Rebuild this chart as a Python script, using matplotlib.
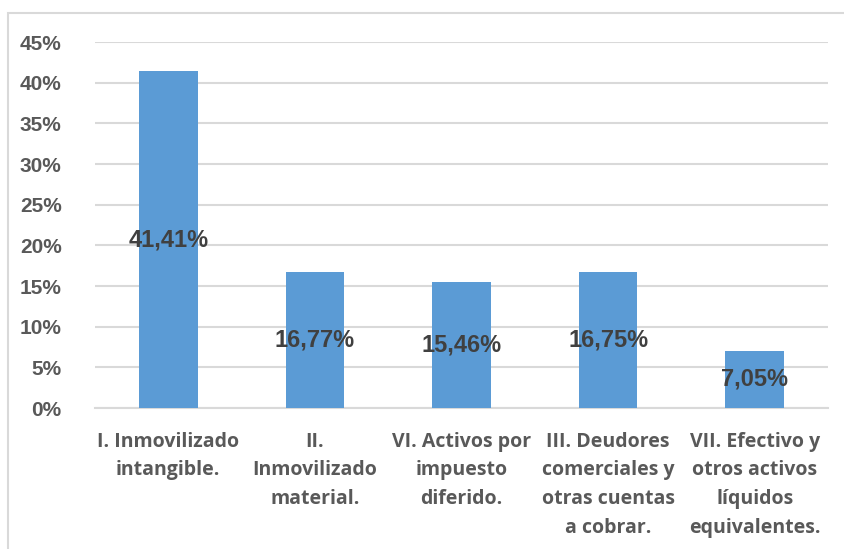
import matplotlib
matplotlib.use("Agg")
import matplotlib.pyplot as plt
from matplotlib.patches import Rectangle
from matplotlib.ticker import MultipleLocator, FuncFormatter

# data
categories = [
    "I. Inmovilizado\nintangible.",
    "II.\nInmovilizado\nmaterial.",
    "VI. Activos por\nimpuesto\ndiferido.",
    "III. Deudores\ncomerciales y\notras cuentas\na cobrar.",
    "VII. Efectivo y\notros activos\nlíquidos\nequivalentes.",
]
values = [41.41, 16.77, 15.46, 16.75, 7.05]
value_labels = ["41,41%", "16,77%", "15,46%", "16,75%", "7,05%"]

fig = plt.figure(figsize=(8.44, 5.49), dpi=100)
ax = fig.add_axes([95 / 844, 141 / 549, 733 / 844, 366 / 549])

# outer chart border
fig.patches.append(Rectangle((8 / 844, -0.1), 1.0, 0.1 + 536 / 549,
                             transform=fig.transFigure, fill=False,
                             edgecolor="#d9d9d9", linewidth=1.5))

x = range(len(categories))
ax.bar(x, values, width=0.4, color="#5b9bd5", zorder=3)

for i, v in enumerate(values):
    ax.text(i, v / 2, value_labels[i], ha="center", va="center",
            fontsize=17, fontweight="bold", color="#404040",
            family="Liberation Sans", zorder=4)

ax.set_xlim(-0.5, len(categories) - 0.5)
ax.set_ylim(0, 45)
ax.yaxis.set_major_locator(MultipleLocator(5))
ax.yaxis.set_major_formatter(FuncFormatter(lambda v, p: f"{v:.0f}%"))
ax.grid(axis="y", color="#d9d9d9", linewidth=1.5, zorder=0)

for s in ["top", "right", "left"]:
    ax.spines[s].set_visible(False)
ax.spines["bottom"].set_color("#d9d9d9")
ax.spines["bottom"].set_linewidth(1.5)

ax.set_xticks(list(x))
ax.set_xticklabels(categories, fontsize=14, fontweight="bold", color="#595959",
                   family="Open Sans", linespacing=1.58)
ax.tick_params(axis="x", length=0, pad=17)
ax.tick_params(axis="y", length=0, pad=24, labelsize=15, labelcolor="#595959")
for lbl in ax.get_yticklabels():
    lbl.set_family("Liberation Sans")
    lbl.set_fontweight("bold")

fig.savefig("out.png", dpi=100)
